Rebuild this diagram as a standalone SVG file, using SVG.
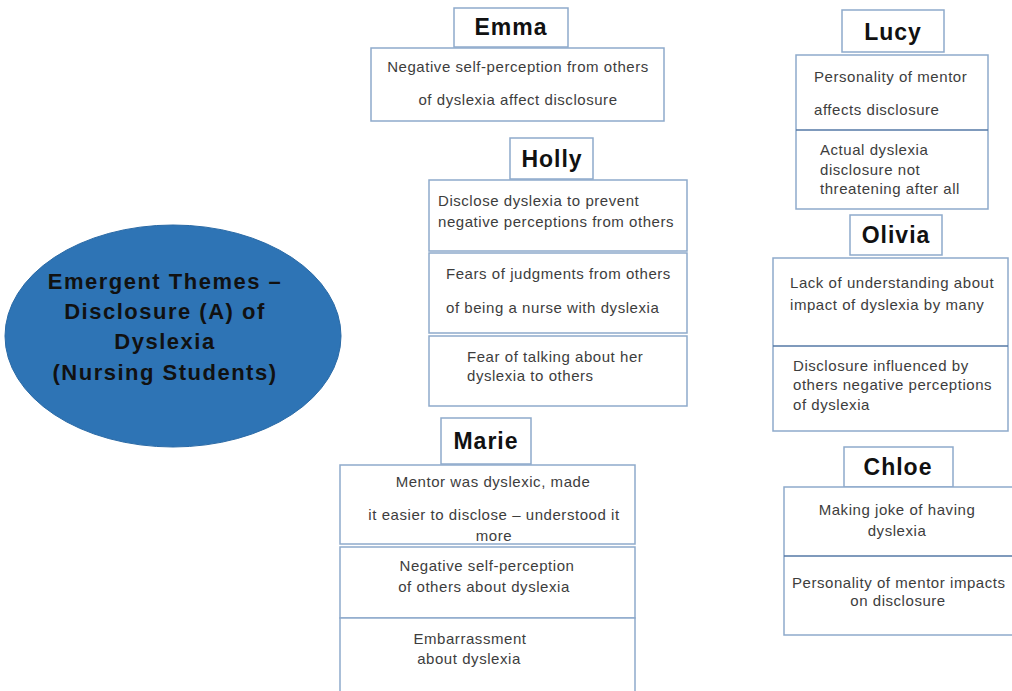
<svg xmlns="http://www.w3.org/2000/svg" width="1012" height="691" viewBox="0 0 1012 691">
<style>
.box{fill:#fff;stroke:#8eaacb;stroke-width:1.5}
.sep{stroke:#5478a6;stroke-width:1.5}
.t{font-family:"Liberation Sans",Arial,sans-serif;font-size:15px;letter-spacing:0.55px;fill:#3d3d3d}
.c{text-anchor:middle}
.h{font-family:"Liberation Sans",Arial,sans-serif;font-size:23px;letter-spacing:1px;font-weight:bold;fill:#111;text-anchor:middle}
.e{font-family:"Liberation Sans",Arial,sans-serif;font-size:22px;letter-spacing:1.5px;font-weight:bold;fill:#111;text-anchor:middle}
</style>
<rect width="1012" height="691" fill="#fff"/>
<g id="center">
<ellipse cx="173" cy="336" rx="168" ry="111" fill="#2e74b5" stroke="#2a6aa6" stroke-width="1"/>
<text class="e" x="165" y="289">Emergent Themes –</text>
<text class="e" x="165" y="319">Disclosure (A) of</text>
<text class="e" x="165" y="349">Dyslexia</text>
<text class="e" x="165" y="380">(Nursing Students)</text>
</g>
<g id="emma">
<rect class="box" x="454" y="8" width="114" height="39"/>
<text class="h" x="511" y="35">Emma</text>
<rect class="box" x="371" y="48" width="293" height="73"/>
<text class="t c" x="518" y="72">Negative self-perception from others</text>
<text class="t c" x="518" y="105">of dyslexia affect disclosure</text>
</g>
<g id="holly">
<rect class="box" x="510" y="138" width="83" height="41"/>
<text class="h" x="552" y="167">Holly</text>
<rect class="box" x="429" y="180" width="258" height="71"/>
<text class="t" x="438" y="206">Disclose dyslexia to prevent</text>
<text class="t" x="438" y="227">negative perceptions from others</text>
<rect class="box" x="429" y="253" width="258" height="80"/>
<text class="t" x="446" y="279">Fears of judgments from others</text>
<text class="t" x="446" y="313">of being a nurse with dyslexia</text>
<rect class="box" x="429" y="336" width="258" height="70"/>
<text class="t" x="467" y="362">Fear of talking about her</text>
<text class="t" x="467" y="381">dyslexia to others</text>
</g>
<g id="marie">
<rect class="box" x="441" y="418" width="90" height="46"/>
<text class="h" x="486" y="449">Marie</text>
<rect class="box" x="340" y="465" width="295" height="79"/>
<text class="t c" x="493" y="487">Mentor was dyslexic, made</text>
<text class="t c" x="494" y="520">it easier to disclose  – understood it</text>
<text class="t c" x="494" y="541">more</text>
<rect class="box" x="340" y="547" width="295" height="71"/>
<text class="t c" x="487" y="571">Negative self-perception</text>
<text class="t c" x="484" y="592">of others about dyslexia</text>
<rect class="box" x="340" y="618" width="295" height="80"/>
<text class="t c" x="470" y="644">Embarrassment</text>
<text class="t c" x="469" y="664">about dyslexia</text>
</g>
<g id="lucy">
<rect class="box" x="842" y="10" width="102" height="42"/>
<text class="h" x="893" y="40">Lucy</text>
<rect class="box" x="796" y="55" width="192" height="154"/>
<line class="sep" x1="796" y1="130" x2="988" y2="130"/>
<text class="t" x="814" y="82">Personality of mentor</text>
<text class="t" x="814" y="115">affects disclosure</text>
<text class="t" x="820" y="155">Actual dyslexia</text>
<text class="t" x="820" y="175">disclosure not</text>
<text class="t" x="820" y="194">threatening after all</text>
</g>
<g id="olivia">
<rect class="box" x="850" y="215" width="92" height="40"/>
<text class="h" x="896" y="243">Olivia</text>
<rect class="box" x="773" y="258" width="235" height="173"/>
<line class="sep" x1="773" y1="346" x2="1008" y2="346"/>
<text class="t" x="790" y="288">Lack of understanding about</text>
<text class="t" x="790" y="310">impact of dyslexia by many</text>
<text class="t" x="793" y="371">Disclosure influenced by</text>
<text class="t" x="793" y="390">others negative perceptions</text>
<text class="t" x="793" y="410">of dyslexia</text>
</g>
<g id="chloe">
<rect class="box" x="844" y="447" width="109" height="40"/>
<text class="h" x="898" y="475">Chloe</text>
<rect class="box" x="784" y="487" width="240" height="148"/>
<line class="sep" x1="784" y1="556" x2="1012" y2="556"/>
<text class="t c" x="897" y="515">Making joke of having</text>
<text class="t c" x="897" y="536">dyslexia</text>
<text class="t" x="792" y="588">Personality of mentor impacts</text>
<text class="t c" x="898" y="606">on disclosure</text>
</g>
<g id="connectors"></g>
</svg>
